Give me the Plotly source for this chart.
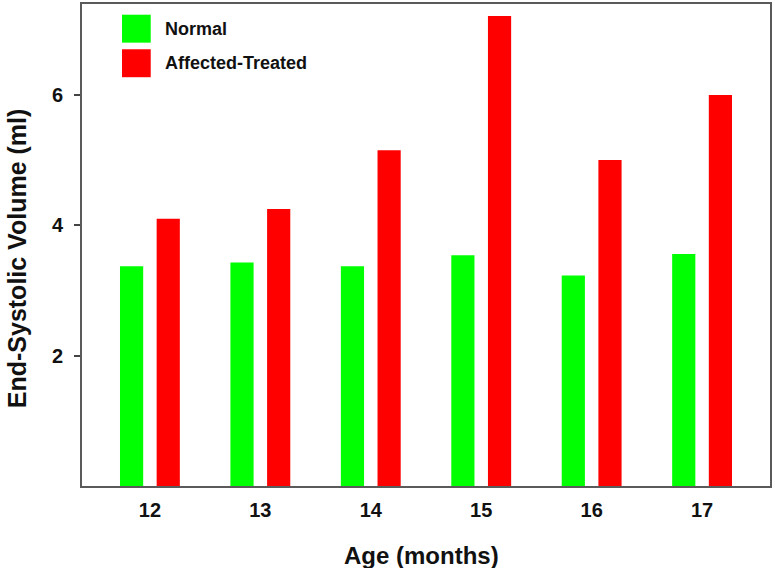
import plotly.graph_objects as go

ages = [12, 13, 14, 15, 16, 17]
normal = [3.37, 3.43, 3.37, 3.54, 3.23, 3.56]
affected = [4.10, 4.25, 5.15, 7.21, 5.00, 6.00]
series_names = ["Normal", "Affected-Treated"]
colors = ["#00FF00", "#FF0000"]

BW = 0.21
fig = go.Figure()
fig.add_trace(go.Bar(x=ages, y=normal, name=series_names[0], marker_color=colors[0],
                     marker_line_width=0, width=BW, offset=-0.166 - BW / 2))
fig.add_trace(go.Bar(x=ages, y=affected, name=series_names[1], marker_color=colors[1],
                     marker_line_width=0, width=BW, offset=0.166 - BW / 2))

font_b = "Liberation Sans, Arial, sans-serif"

# legend drawn as large squares
leg_y = [(0.9778, 0.9198), (0.9061, 0.8481)]
for (y1, y0), name, c in zip(leg_y, series_names, colors):
    fig.add_shape(type="rect", xref="paper", yref="paper", x0=0.0581, x1=0.0999,
                  y0=y0, y1=y1, fillcolor=c, line_width=0)
    fig.add_annotation(xref="paper", yref="paper", x=0.1177, y=(y0 + y1) / 2,
                       text="<b>%s</b>" % name, showarrow=False, xanchor="left",
                       yanchor="middle", font=dict(size=18, color="#111", family=font_b))

# axis titles
fig.add_annotation(xref="paper", yref="paper", x=0.494, y=-0.145,
                   text="<b>Age (months)</b>", showarrow=False, xanchor="center",
                   yanchor="middle", font=dict(size=24, color="#111", family=font_b))
fig.add_annotation(xref="paper", yref="paper", x=-0.0945, y=0.4725, textangle=-90,
                   text="<b>End-Systolic Volume (ml)</b>", showarrow=False, xanchor="center",
                   yanchor="middle", font=dict(size=25, color="#111", family=font_b))

fig.update_layout(
    width=775, height=568,
    margin=dict(l=82, r=5, t=4, b=81.5),
    paper_bgcolor="white", plot_bgcolor="white",
    showlegend=False,
    barmode="overlay",
    font=dict(family=font_b, color="#111"),
    xaxis=dict(
        range=[11.385, 17.615], tickmode="array", tickvals=ages,
        ticktext=["<b>%d</b>" % a for a in ages],
        tickfont=dict(size=20, family=font_b, color="#111"),
        ticks="", ticklabelstandoff=5,
        showgrid=False, zeroline=False, automargin=False,
        showline=True, linecolor="#5a5a5a", linewidth=2, mirror=True,
    ),
    yaxis=dict(
        range=[0, 7.395], tickmode="array", tickvals=[2, 4, 6],
        ticktext=["<b>2</b>", "<b>4</b>", "<b>6</b>"],
        tickfont=dict(size=20, family=font_b, color="#111"),
        ticks="outside", ticklen=6, tickwidth=1.5, tickcolor="#444",
        ticklabelstandoff=7,
        showgrid=False, zeroline=False, automargin=False,
        showline=True, linecolor="#5a5a5a", linewidth=2, mirror=True,
    ),
)

fig.write_html("out.html", config={"displayModeBar": False},
               post_script="document.body.style.margin='0';")
